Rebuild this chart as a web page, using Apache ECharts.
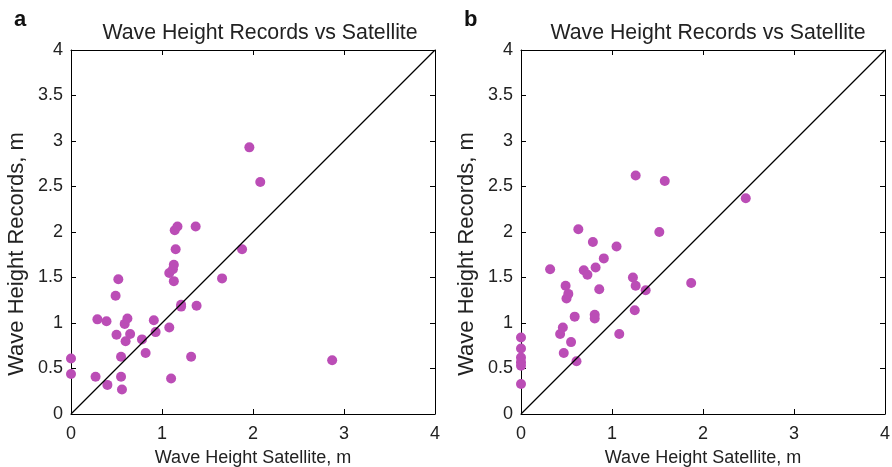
<!DOCTYPE html>
<html>
<head>
<meta charset="utf-8">
<script src="https://cdn.jsdelivr.net/npm/echarts@6/dist/echarts.min.js"></script>
<style>
  html, body {margin: 0; padding: 0; background: #fff;}
  #chart {width: 892px; height: 467px;}
</style>
</head>
<body>
<div id="chart"></div>
<script>
// panel a: [satellite, records]
const pointsA = [
    [0.00, 0.61], [0.00, 0.44], [0.27, 0.41], [0.29, 1.04], [0.39, 1.02], [0.40, 0.32],
    [0.49, 1.30], [0.50, 0.87], [0.52, 1.48], [0.55, 0.63], [0.55, 0.41], [0.56, 0.27],
    [0.59, 0.99], [0.60, 0.80], [0.62, 1.05], [0.65, 0.88], [0.78, 0.82], [0.82, 0.67],
    [0.91, 1.03], [0.93, 0.90], [1.08, 0.95], [1.08, 1.55], [1.10, 0.39], [1.12, 1.59],
    [1.13, 1.64], [1.13, 1.46], [1.15, 1.81], [1.14, 2.02], [1.17, 2.06], [1.21, 1.20],
    [1.21, 1.18], [1.32, 0.63], [1.37, 2.06], [1.38, 1.19], [1.66, 1.49], [1.88, 1.81],
    [1.96, 2.93], [2.08, 2.55], [2.87, 0.59]
];
// panel b
const pointsB = [
    [0.00, 0.84], [0.00, 0.72], [0.00, 0.62], [0.00, 0.57], [0.00, 0.53], [0.00, 0.33],
    [0.32, 1.59], [0.43, 0.88], [0.46, 0.95], [0.47, 0.67], [0.49, 1.41], [0.50, 1.27],
    [0.52, 1.32], [0.55, 0.79], [0.59, 1.07], [0.61, 0.58], [0.63, 2.03], [0.69, 1.58],
    [0.73, 1.53], [0.79, 1.89], [0.81, 1.09], [0.81, 1.05], [0.82, 1.61], [0.86, 1.37],
    [0.91, 1.71], [1.05, 1.84], [1.08, 0.88], [1.23, 1.50], [1.25, 1.14], [1.26, 1.41],
    [1.26, 2.62], [1.37, 1.36], [1.52, 2.00], [1.58, 2.56], [1.87, 1.44], [2.47, 2.37]
];
const diagonal = [[0, 0], [4, 4]];
const axisMax = 4;
const xTickStep = 1;
const yTickStep = 0.5;
const titleText = 'Wave Height Records vs Satellite';
const xName = 'Wave Height Satellite, m';
const yName = 'Wave Height Records, m';

const dotColor = '#bb4db6';
const font = "'Liberation Sans', Arial, sans-serif";

const chart = echarts.init(document.getElementById('chart'));

const lineStyle = {color: '#000', width: 1};

function xAxes(gridIndex) {
    return [
        {
            gridIndex, type: 'value', min: 0, max: axisMax, interval: xTickStep,
            name: xName, nameLocation: 'middle', nameGap: 35,
            nameTextStyle: {color: '#222', fontSize: 18, fontFamily: font},
            axisLine: {onZero: false, lineStyle},
            axisTick: {inside: true, length: 5, lineStyle},
            axisLabel: {color: '#222', fontSize: 18, fontFamily: font, margin: 11},
            splitLine: {show: false}
        },
        {
            gridIndex, type: 'value', position: 'top', min: 0, max: axisMax, interval: xTickStep,
            axisLine: {onZero: false, lineStyle},
            axisTick: {inside: true, length: 5, lineStyle},
            axisLabel: {show: false},
            splitLine: {show: false}
        }
    ];
}

function yAxes(gridIndex) {
    return [
        {
            gridIndex, type: 'value', min: 0, max: axisMax, interval: yTickStep,
            name: yName, nameLocation: 'middle', nameGap: 43,
            // shifted a little toward the bottom, as in the figure
            nameTextStyle: {color: '#222', fontSize: 22, fontFamily: font, padding: [0, 44, 0, 0]},
            axisLine: {onZero: false, lineStyle},
            axisTick: {inside: true, length: 5, lineStyle},
            axisLabel: {color: '#222', fontSize: 18, fontFamily: font, margin: 8},
            splitLine: {show: false}
        },
        {
            gridIndex, type: 'value', position: 'right', min: 0, max: axisMax, interval: yTickStep,
            axisLine: {onZero: false, lineStyle},
            axisTick: {inside: true, length: 5, lineStyle},
            axisLabel: {show: false},
            splitLine: {show: false}
        }
    ];
}

function panelSeries(points, xi, yi) {
    return [
        {
            type: 'line', data: diagonal, xAxisIndex: xi, yAxisIndex: yi,
            symbol: 'none', silent: true,
            lineStyle: {color: '#000', width: 1.2}
        },
        {
            type: 'scatter', data: points, xAxisIndex: xi, yAxisIndex: yi,
            symbol: 'circle', symbolSize: 10,
            itemStyle: {color: dotColor, opacity: 1}
        }
    ];
}

chart.setOption({
    animation: false,
    title: [
        {text: 'a', left: 9, top: 4, textStyle: {fontSize: 22, fontWeight: 'bold', color: '#111', fontFamily: font}},
        {text: 'b', left: 459, top: 4, textStyle: {fontSize: 22, fontWeight: 'bold', color: '#111', fontFamily: font}},
        {text: titleText, left: 255, top: 18, textAlign: 'center', textStyle: {fontSize: 21.3, fontWeight: 'normal', color: '#222', fontFamily: font}},
        {text: titleText, left: 703, top: 18, textAlign: 'center', textStyle: {fontSize: 21.3, fontWeight: 'normal', color: '#222', fontFamily: font}}
    ],
    grid: [
        {left: 71, top: 50, width: 364, height: 364, outerBoundsMode: 'none'},
        {left: 521, top: 50, width: 364, height: 364, outerBoundsMode: 'none'}
    ],
    xAxis: [...xAxes(0), ...xAxes(1)],
    yAxis: [...yAxes(0), ...yAxes(1)],
    series: [...panelSeries(pointsA, 0, 0), ...panelSeries(pointsB, 2, 2)]
});
</script>
</body>
</html>
